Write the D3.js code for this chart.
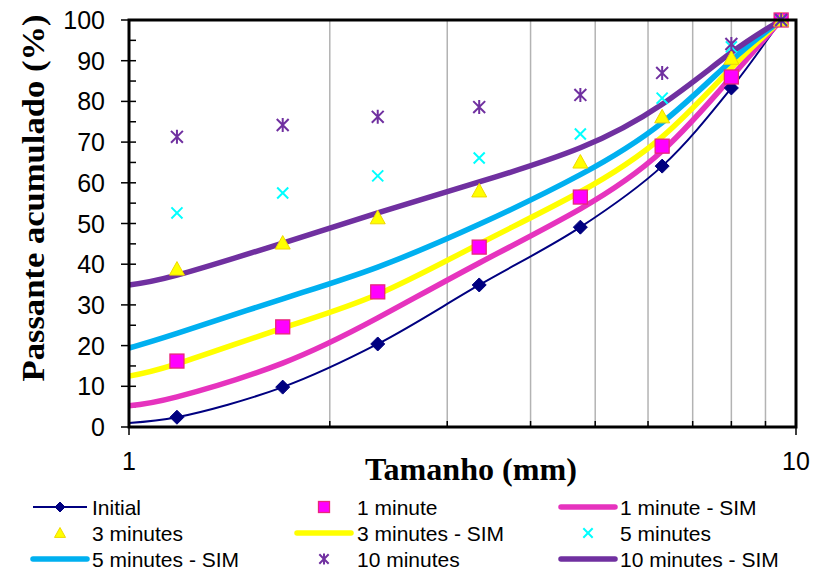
<!DOCTYPE html>
<html>
<head>
<meta charset="utf-8">
<script src="https://cdn.jsdelivr.net/npm/d3@7"></script>
<style>
  body { margin: 0; background: #fff; }
  svg { display: block; }
</style>
</head>
<body>
<div id="chart"></div>
<script>
// sieve sizes (mm) of the measured points
var sizes = [1.18, 1.7, 2.36, 3.35, 4.75, 6.3, 8, 9.5];
var initialValues = [2.4, 9.8, 20.4, 34.9, 49.1, 64.1, 83.3, 100];
var initialStart = [1, 1.0]; // where the initial line leaves the y axis
var min1Values = [16.2, 24.6, 33.2, 44.2, 56.5, 69.0, 86.0, 100];
var min3Values = [38.8, 45.2, 51.4, 58.0, 65.1, 76.2, 90.6, 100];
var min5Values = [52.6, 57.5, 61.7, 66.1, 72.0, 80.8, 93.4, 100];
var min10Values = [71.3, 74.2, 76.2, 78.6, 81.6, 87.0, 94.1, 100];

// simulated curves
var simSizes = [1, 1.18, 1.7, 2.36, 3.35, 4.75, 6.3, 8, 9.5];
var sim1Values = [5.2, 7.4, 15.7, 26.8, 40.3, 53.6, 67.8, 86.0, 100];
var sim3Values = [12.5, 15.5, 24.3, 32.6, 45.0, 57.8, 71.3, 88.2, 100];
var sim5Values = [19.4, 23.0, 31.5, 39.3, 49.8, 62.0, 74.8, 90.0, 100];
var sim10Values = [34.9, 37.3, 45.2, 52.6, 60.2, 68.6, 79.3, 92.0, 100];

var yTicks = [0, 10, 20, 30, 40, 50, 60, 70, 80, 90, 100];
var xLabels = [1, 10];
var xGrid = [2, 3, 4, 5, 6, 7, 8, 9];

var W = 816, H = 570;
var margin = { top: 20, right: 20, bottom: 143, left: 129 };
var width = 796 - margin.left;
var height = 427 - margin.top;

var svg = d3.select("#chart").append("svg")
    .attr("width", W)
    .attr("height", H);

var g = svg.append("g")
    .attr("transform", "translate(" + margin.left + "," + margin.top + ")");

var x = d3.scaleLog().domain([1, 10]).range([0, width]);
var y = d3.scaleLinear().domain([0, 100]).range([height, 0]);

// vertical grid
g.selectAll(".grid")
    .data(xGrid)
    .join("line")
    .attr("x1", d => x(d)).attr("x2", d => x(d))
    .attr("y1", 0).attr("y2", height)
    .attr("stroke", "#b3b3b3")
    .attr("stroke-width", 1.5);

// small ticks on the x axis
g.selectAll(".xtick")
    .data(xGrid)
    .join("line")
    .attr("x1", d => x(d)).attr("x2", d => x(d))
    .attr("y1", height - 6).attr("y2", height)
    .attr("stroke", "#000").attr("stroke-width", 1.5);
g.selectAll(".xtick2")
    .data(xLabels)
    .join("line")
    .attr("x1", d => x(d)).attr("x2", d => x(d))
    .attr("y1", height).attr("y2", height + 8)
    .attr("stroke", "#000").attr("stroke-width", 1.5);

// y ticks, major and minor
g.selectAll(".ytick")
    .data(d3.range(0, 101, 5))
    .join("line")
    .attr("x1", d => d % 10 === 0 ? -8 : 0)
    .attr("x2", 7)
    .attr("y1", d => y(d)).attr("y2", d => y(d))
    .attr("stroke", "#000").attr("stroke-width", 1.5);

// tick labels
g.selectAll(".ylabel")
    .data(yTicks)
    .join("text")
    .attr("x", -24)
    .attr("y", d => y(d))
    .attr("dy", "0.36em")
    .attr("text-anchor", "end")
    .style("font-family", "'Liberation Sans', Arial, sans-serif")
    .style("font-size", "25px")
    .text(d => d);

g.selectAll(".xlabel")
    .data(xLabels)
    .join("text")
    .attr("x", d => x(d))
    .attr("y", 470 - margin.top)
    .attr("text-anchor", "middle")
    .style("font-family", "'Liberation Sans', Arial, sans-serif")
    .style("font-size", "25px")
    .text(d => d);

// axis titles
svg.append("text")
    .attr("x", 471).attr("y", 480)
    .attr("text-anchor", "middle")
    .attr("textLength", 212)
    .attr("lengthAdjust", "spacingAndGlyphs")
    .style("font-family", "'Liberation Serif', 'Times New Roman', serif")
    .style("font-weight", "bold")
    .style("font-size", "31px")
    .text("Tamanho (mm)");

svg.append("text")
    .attr("transform", "translate(44,198) rotate(-90)")
    .attr("text-anchor", "middle")
    .attr("textLength", 367)
    .attr("lengthAdjust", "spacingAndGlyphs")
    .style("font-family", "'Liberation Serif', 'Times New Roman', serif")
    .style("font-weight", "bold")
    .style("font-size", "32px")
    .text("Passante acumulado (%)");

// lines
var line = d3.line()
    .x(d => x(d[0]))
    .y(d => y(d[1]))
    .curve(d3.curveCatmullRom.alpha(0.5));

var simLine = d3.line()
    .x(d => x(d[0]))
    .y(d => y(d[1]))
    .curve(d3.curveNatural);

var simSeries = [
    { name: "1 minute - SIM", values: sim1Values, color: "#e633be" },
    { name: "3 minutes - SIM", values: sim3Values, color: "#ffff00" },
    { name: "5 minutes - SIM", values: sim5Values, color: "#00b0f0" },
    { name: "10 minutes - SIM", values: sim10Values, color: "#7030a0" }
];

var initialPts = [initialStart].concat(sizes.map((s, i) => [s, initialValues[i]]));
g.append("path")
    .attr("d", line(initialPts))
    .attr("fill", "none")
    .attr("stroke", "#000080")
    .attr("stroke-width", 2);

simSeries.forEach(function (s) {
    g.append("path")
        .attr("d", simLine(simSizes.map((v, i) => [v, s.values[i]])))
        .attr("fill", "none")
        .attr("stroke", s.color)
        .attr("stroke-width", 5.5);
});

// marker drawing helpers
function drawMarker(sel, type, size) {
    var h = size / 2;
    if (type === "diamond") {
        sel.append("path")
            .attr("d", "M0," + (-h) + "L" + h + ",0L0," + h + "L" + (-h) + ",0Z")
            .attr("fill", "#000080").attr("stroke", "#000080").attr("stroke-width", 1);
    } else if (type === "square") {
        sel.append("rect")
            .attr("x", -h).attr("y", -h).attr("width", size).attr("height", size)
            .attr("fill", "#ff00ff").attr("stroke", "#e8287a").attr("stroke-width", 1.3);
    } else if (type === "triangle") {
        sel.append("path")
            .attr("d", "M0," + (-h) + "L" + h + "," + (h * 0.8) + "L" + (-h) + "," + (h * 0.8) + "Z")
            .attr("fill", "#ffff00").attr("stroke", "#f0d800").attr("stroke-width", 1);
    } else if (type === "cross") {
        var c = h * 0.85;
        sel.append("path")
            .attr("d", "M" + (-c) + "," + (-c) + "L" + c + "," + c + "M" + (-c) + "," + c + "L" + c + "," + (-c))
            .attr("stroke", "#00ffff").attr("stroke-width", 2).attr("fill", "none");
    } else if (type === "star") {
        var c2 = h * 0.85;
        sel.append("path")
            .attr("d", "M" + (-c2) + "," + (-c2) + "L" + c2 + "," + c2 + "M" + (-c2) + "," + c2 + "L" + c2 + "," + (-c2) +
                "M0," + (-h) + "L0," + h)
            .attr("stroke", "#7030a0").attr("stroke-width", 2).attr("fill", "none");
    }
}

var markerSeries = [
    { values: initialValues, type: "diamond", size: 14 },
    { values: min1Values, type: "square", size: 14 },
    { values: min3Values, type: "triangle", size: 15 },
    { values: min5Values, type: "cross", size: 13 },
    { values: min10Values, type: "star", size: 14 }
];

markerSeries.forEach(function (s) {
    g.selectAll(null)
        .data(sizes.map((v, i) => [v, s.values[i]]))
        .join("g")
        .attr("transform", d => "translate(" + x(d[0]) + "," + y(d[1]) + ")")
        .each(function () { drawMarker(d3.select(this), s.type, s.size); });
});

// frame
g.append("rect")
    .attr("x", 0).attr("y", 0)
    .attr("width", width).attr("height", height)
    .attr("fill", "none")
    .attr("stroke", "#000")
    .attr("stroke-width", 3);

// legend
var legendItems = [
    { name: "Initial", kind: "line", color: "#000080", lw: 2, marker: "diamond" },
    { name: "1 minute", kind: "marker", marker: "square" },
    { name: "1 minute - SIM", kind: "line", color: "#e633be", lw: 5.5 },
    { name: "3 minutes", kind: "marker", marker: "triangle" },
    { name: "3 minutes - SIM", kind: "line", color: "#ffff00", lw: 5.5 },
    { name: "5 minutes", kind: "marker", marker: "cross" },
    { name: "5 minutes - SIM", kind: "line", color: "#00b0f0", lw: 5.5 },
    { name: "10 minutes", kind: "marker", marker: "star" },
    { name: "10 minutes - SIM", kind: "line", color: "#7030a0", lw: 5.5 }
];
var colLineX = [33, 297, 561];
var colTextX = [92, 357, 620];
var rowY = [507, 533, 559];

legendItems.forEach(function (d, i) {
    var col = i % 3, row = Math.floor(i / 3);
    var item = svg.append("g").attr("transform", "translate(0," + rowY[row] + ")");
    var x0 = colLineX[col], x1 = x0 + 54;
    if (d.kind === "line") {
        item.append("line")
            .attr("x1", x0).attr("x2", x1)
            .attr("y1", 0).attr("y2", 0)
            .attr("stroke", d.color)
            .attr("stroke-width", d.lw)
            .attr("stroke-linecap", d.lw > 3 ? "round" : "butt");
    }
    if (d.marker) {
        var m = item.append("g").attr("transform", "translate(" + ((x0 + x1) / 2) + ",0)");
        drawMarker(m, d.marker, d.marker === "diamond" ? 10 : 11);
    }
    item.append("text")
        .attr("x", colTextX[col])
        .attr("y", 8)
        .style("font-family", "'Liberation Sans', Arial, sans-serif")
        .style("font-size", "21px")
        .text(d.name);
});
</script>
</body>
</html>
